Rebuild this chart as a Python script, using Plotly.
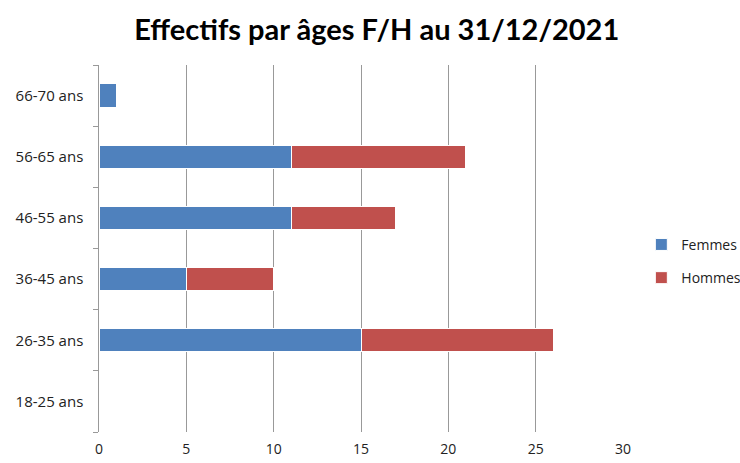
import plotly.graph_objects as go

categories = ["18-25 ans", "26-35 ans", "36-45 ans", "46-55 ans", "56-65 ans", "66-70 ans"]
femmes = [0, 15, 5, 11, 11, 1]
hommes = [0, 11, 5, 6, 10, 0]
x_ticks = [0, 5, 10, 15, 20, 25, 30]

font_family = "'Open Sans', Lato, sans-serif"

fig = go.Figure()
fig.add_trace(go.Bar(y=categories, x=femmes, name="Femmes", orientation="h", legendgroup="f",
                     marker=dict(color="#4F81BD", line=dict(color="white", width=1))))
fig.add_trace(go.Bar(y=categories, x=hommes, name="Hommes", orientation="h", legendgroup="h",
                     marker=dict(color="#C0504D", line=dict(color="white", width=1))))

fig.update_layout(
    width=740, height=463,
    barmode="stack",
    bargap=0.62,
    plot_bgcolor="white", paper_bgcolor="white",
    margin=dict(l=99, r=117, t=65, b=31, autoexpand=False),
    title=dict(text="<b>Effectifs par âges F/H au 31/12/2021</b>", x=0.53, xanchor="center",
               xref="paper", y=1 - 30 / 463, yref="container", yanchor="middle",
               font=dict(family="Lato, sans-serif", size=29, color="black")),
    font=dict(family=font_family, size=14, color="#222"),
    legend=dict(x=1.035, y=0.465, xanchor="left", yanchor="middle", traceorder="grouped",
                font=dict(size=14), itemwidth=30, tracegroupgap=12, bgcolor="rgba(0,0,0,0)"),
    xaxis=dict(range=[0, 30], tickvals=x_ticks, showgrid=True, gridcolor="#999999", gridwidth=1,
               zeroline=False, showline=False, ticks="", tickfont=dict(size=14),
               ticklabelstandoff=7, automargin=False),
    yaxis=dict(categoryorder="array", categoryarray=categories, showline=True, linecolor="#999999",
               ticks="outside", tickson="boundaries", ticklen=5, tickcolor="#999999",
               showgrid=False, ticksuffix="   ", tickfont=dict(size=15), automargin=False),
)
fig.write_html("out.html", config={"displayModeBar": False},
               post_script="document.body.style.margin='0';")
